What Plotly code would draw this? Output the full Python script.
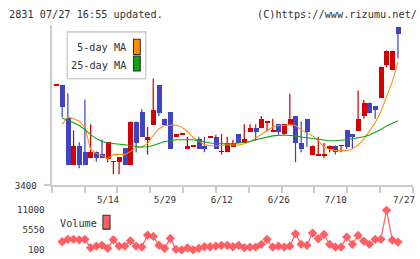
import plotly.graph_objects as go

# reference geometry (pixels of the target picture)
RW, RH = 420, 259
# the page is shown slightly reduced, so the figure is laid out a little larger
S = 430 / 420
W, H = round(RW * S), round(RH * S)

# ---------------- data ----------------
# trading-day index: -1 .. 59 for candles, 0 .. 59 for volume / moving averages
opens = [3650, 3652, 3568, 3450, 3500, 3485, 3468, 3485, 3478, 3467, 3459, 3458, 3493, 3450, 3560, 3583,
         3513, 3552, 3652, 3567, 3583, 3521, 3528, 3491, 3498, 3516, 3499, 3521, 3521, 3484, 3483, 3497,
         3529, 3506, 3535, 3545, 3543, 3559, 3536, 3553, 3528, 3552, 3574, 3507, 3567, 3477, 3476, 3476,
         3491, 3500, 3499, 3538, 3529, 3537, 3574, 3608, 3598, 3620, 3703, 3689, 3798]
highs = [3653, 3652, 3631, 3538, 3508, 3615, 3553, 3485, 3515, 3508, 3461, 3470, 3493, 3560, 3560, 3591,
         3546, 3668, 3652, 3567, 3583, 3529, 3530, 3521, 3500, 3522, 3522, 3523, 3527, 3529, 3522, 3514,
         3529, 3553, 3553, 3553, 3574, 3561, 3567, 3553, 3553, 3630, 3574, 3560, 3567, 3500, 3522, 3506,
         3500, 3500, 3501, 3538, 3529, 3638, 3614, 3608, 3598, 3698, 3738, 3738, 3798]
lows = [3650, 3570, 3450, 3450, 3443, 3450, 3468, 3459, 3468, 3458, 3428, 3428, 3450, 3450, 3482, 3521,
        3477, 3552, 3574, 3552, 3491, 3521, 3528, 3491, 3498, 3491, 3483, 3521, 3491, 3477, 3483, 3497,
        3506, 3506, 3535, 3512, 3543, 3535, 3536, 3527, 3528, 3552, 3458, 3483, 3497, 3477, 3476, 3468,
        3483, 3477, 3483, 3491, 3491, 3537, 3567, 3581, 3567, 3620, 3696, 3689, 3718]
closes = [3653, 3596, 3450, 3500, 3450, 3450, 3485, 3468, 3468, 3508, 3461, 3470, 3450, 3560, 3506, 3521,
          3522, 3590, 3581, 3552, 3491, 3529, 3530, 3499, 3500, 3491, 3491, 3523, 3491, 3486, 3507, 3507,
          3506, 3516, 3545, 3535, 3567, 3561, 3538, 3535, 3553, 3567, 3506, 3491, 3535, 3500, 3478, 3478,
          3500, 3483, 3501, 3497, 3521, 3567, 3608, 3581, 3589, 3698, 3738, 3738, 3781]
ma5 = [3553, 3572, 3567, 3561, 3545, 3490, 3480, 3475, 3467, 3477,
       3478, 3477, 3485, 3495, 3496, 3505, 3525, 3542, 3550, 3551,
       3551, 3546, 3535, 3520, 3510, 3502, 3499, 3499, 3500, 3502,
       3501, 3501, 3504, 3509, 3519, 3527, 3537, 3547, 3550, 3550,
       3552, 3550, 3539, 3531, 3524, 3512, 3496, 3490, 3487, 3487,
       3487, 3492, 3501, 3516, 3537, 3557, 3585, 3620, 3660, 3710]
ma25 = [3568, 3564, 3557, 3550, 3540, 3527, 3517, 3510, 3506, 3505,
        3503, 3502, 3499, 3497, 3496, 3497, 3500, 3505, 3510, 3512,
        3514, 3514, 3514, 3514, 3512, 3509, 3506, 3505, 3504, 3504,
        3504, 3506, 3507, 3510, 3514, 3517, 3521, 3524, 3525, 3526,
        3525, 3524, 3521, 3519, 3517, 3515, 3514, 3512, 3512, 3513,
        3514, 3517, 3519, 3522, 3526, 3532, 3540, 3549, 3556, 3562]
volume = [2360, 3020, 3020, 2900, 3020, 730, 1190, 1380, 560, 2900,
          1190, 1190, 2630, 1190, 920, 4190, 3830, 1380, 560, 3290,
          290, 120, 650, 150, 560, 1000, 1000, 1190, 1380, 1380,
          1000, 1380, 730, 920, 920, 1650, 3020, 920, 1190, 920,
          1190, 4540, 1650, 1380, 4730, 3180, 4380, 1650, 920, 920,
          3640, 1650, 4110, 2550, 1650, 3020, 3020, 11000, 2830, 2280]
tick_pos = [7, 17, 27, 37, 47, 59]
tick_text = ["5/14", "5/29", "6/12", "6/26", "7/10", "7/27"]
price_ticks = [3400]
price_tick_text = ["3400"]
vol_ticks = [100, 5550, 11000]
vol_tick_text = ["100", "5550", "11000"]

# ---------------- styling ----------------
RED = "#d40000"
BLUE = "#4343c2"
ORANGE = "#ff8a00"
GREEN = "#10a010"
VOLC = "#ff5e62"
AXC = "#cccccc"
TXT = "#333333"
FONT = "DejaVu Sans Mono"
TICK_FS = 9

def px_x(p):
    return p / RW

def px_y(p):
    return (RH - p) / RH

def s(v):
    return v * S

def si(v):
    return int(round(v * S))

cidx = list(range(-1, -1 + len(opens)))
vidx = list(range(len(volume)))

fig = go.Figure()

# wicks
for up, col in ((True, RED), (False, BLUE)):
    wx, wy = [], []
    for i, o, h, l, c in zip(cidx, opens, highs, lows, closes):
        if (c >= o) == up:
            wx += [i, i, None]
            wy += [l, h, None]
    fig.add_trace(go.Scatter(x=wx, y=wy, mode="lines", line=dict(color=col, width=s(1.2)),
                             hoverinfo="skip", showlegend=False, xaxis="x", yaxis="y"))

# bodies
for up, col in ((True, RED), (False, BLUE)):
    bx, bb, bh = [], [], []
    for i, o, c in zip(cidx, opens, closes):
        if (c >= o) == up:
            bx.append(i)
            bb.append(min(o, c))
            bh.append(abs(c - o))
    fig.add_trace(go.Bar(x=bx, y=bh, base=bb, width=0.88, marker=dict(color=col, line=dict(width=0)),
                         showlegend=False, xaxis="x", yaxis="y"))

fig.add_trace(go.Scatter(x=vidx, y=ma5, mode="lines", line=dict(color=ORANGE, width=s(1)),
                         showlegend=False, xaxis="x", yaxis="y"))
fig.add_trace(go.Scatter(x=vidx, y=ma25, mode="lines", line=dict(color=GREEN, width=s(1)),
                         showlegend=False, xaxis="x", yaxis="y"))

fig.add_trace(go.Scatter(x=vidx, y=volume, mode="lines+markers",
                         line=dict(color=VOLC, width=s(1.2)),
                         marker=dict(symbol="diamond", size=s(7), color=VOLC, line=dict(width=0)),
                         showlegend=False, xaxis="x2", yaxis="y2"))

xr = [(50.7 - 61) / 5.585, (405.3 - 61) / 5.585]
xdom = [px_x(50.7), px_x(405.3)]

fig.update_layout(
    width=W, height=H,
    margin=dict(l=0, r=0, t=0, b=0),
    paper_bgcolor="white", plot_bgcolor="white",
    barmode="overlay", bargap=0,
    showlegend=False,
    font=dict(family=FONT, size=s(10), color=TXT),
    xaxis=dict(domain=xdom, range=xr, anchor="y", showgrid=False, zeroline=False,
               showline=True, linecolor=AXC, linewidth=s(1.5),
               tickmode="linear", tick0=xr[0], dtick=(xr[1] - xr[0]) / 11,
               ticks="outside", ticklen=s(6), tickcolor=AXC, tickwidth=s(1.5),
               showticklabels=False),
    # date labels start at their day (left-aligned look)
    xaxis3=dict(overlaying="x", anchor="y", range=xr, showgrid=False, zeroline=False,
                showline=False, tickmode="array", tickvals=tick_pos, ticktext=tick_text,
                ticks="", ticklabelstandoff=si(7), ticklabelshift=6,
                tickfont=dict(family=FONT, size=s(TICK_FS), color=TXT)),
    yaxis=dict(domain=[px_y(184), px_y(23)], range=[3400, 3802.5], anchor="x",
               showgrid=False, zeroline=False, showline=True, linecolor=AXC, linewidth=s(1.5),
               tickmode="array", tickvals=price_ticks, ticktext=price_tick_text,
               ticks="outside", ticklen=s(6),
               tickcolor=AXC, tickwidth=s(1.5), ticklabelstandoff=si(5),
               tickfont=dict(family=FONT, size=s(TICK_FS), color=TXT)),
    xaxis2=dict(domain=xdom, range=xr, anchor="y2", visible=False),
    yaxis2=dict(domain=[px_y(253), px_y(205)], range=[-990, 12090], anchor="x2",
                showgrid=False, zeroline=False, showline=False, ticks="", ticklen=0,
                tickmode="array", tickvals=vol_ticks, ticktext=vol_tick_text,
                ticklabelstandoff=si(6),
                tickfont=dict(family=FONT, size=s(TICK_FS), color=TXT)),
)

# dummy trace so xaxis3 renders
fig.add_trace(go.Scatter(x=[tick_pos[0]], y=[None], xaxis="x3", yaxis="y", showlegend=False,
                         hoverinfo="skip"))

shapes = [
    # page border in the background colour (keeps the page extent identical)
    dict(type="rect", xref="paper", yref="paper", x0=0, x1=1, y0=0, y1=1,
         line=dict(color="white", width=2), fillcolor="rgba(0,0,0,0)", layer="below"),
    dict(type="rect", xref="paper", yref="paper", x0=px_x(66), x1=px_x(143), y0=px_y(77), y1=px_y(30),
         line=dict(color="#d0d0d0", width=s(1.5)), fillcolor="white", layer="above"),
    dict(type="rect", xref="paper", yref="paper", x0=px_x(131), x1=px_x(137.7), y0=px_y(52.7), y1=px_y(37.3),
         line=dict(color=TXT, width=s(1)), fillcolor=ORANGE, layer="above"),
    dict(type="rect", xref="paper", yref="paper", x0=px_x(131), x1=px_x(137.7), y0=px_y(69.3), y1=px_y(54.3),
         line=dict(color=TXT, width=s(1)), fillcolor=GREEN, layer="above"),
    dict(type="rect", xref="paper", yref="paper", x0=px_x(101), x1=px_x(108), y0=px_y(228), y1=px_y(214),
         line=dict(color=TXT, width=s(1)), fillcolor=VOLC, layer="above"),
]
annotations = [
    dict(text="2831 07/27 16:55 updated.", x=px_x(7), y=px_y(13), xref="paper", yref="paper",
         xanchor="left", yanchor="middle", showarrow=False, font=dict(family=FONT, size=s(10), color=TXT)),
    dict(text="(C)https://www.rizumu.net/", x=px_x(411), y=px_y(13), xref="paper", yref="paper",
         xanchor="right", yanchor="middle", showarrow=False, font=dict(family=FONT, size=s(10), color=TXT)),
    dict(text="5-day MA", x=px_x(126), y=px_y(46), xref="paper", yref="paper",
         xanchor="right", yanchor="middle", showarrow=False, font=dict(family=FONT, size=s(10), color=TXT)),
    dict(text="25-day MA", x=px_x(126), y=px_y(63.5), xref="paper", yref="paper",
         xanchor="right", yanchor="middle", showarrow=False, font=dict(family=FONT, size=s(10), color=TXT)),
    dict(text="Volume", x=px_x(57), y=px_y(222), xref="paper", yref="paper",
         xanchor="left", yanchor="middle", showarrow=False, font=dict(family=FONT, size=s(10), color=TXT)),
]
fig.update_layout(shapes=shapes, annotations=annotations)

fig.write_html("out.html")
